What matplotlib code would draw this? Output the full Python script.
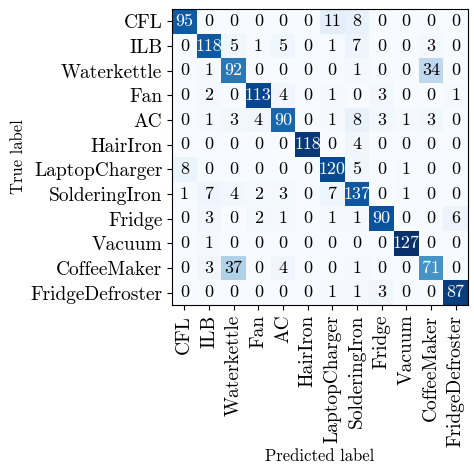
import numpy as np
import matplotlib
matplotlib.use("Agg")
import matplotlib.pyplot as plt

plt.rcParams["font.family"] = "serif"
plt.rcParams["font.serif"] = ["cmr10", "DejaVu Serif"]
plt.rcParams["mathtext.fontset"] = "cm"
plt.rcParams["axes.formatter.use_mathtext"] = True

classes = ["CFL", "ILB", "Waterkettle", "Fan", "AC", "HairIron",
           "LaptopCharger", "SolderingIron", "Fridge", "Vacuum",
           "CoffeeMaker", "FridgeDefroster"]

cm = np.array([
    [95, 0, 0, 0, 0, 0, 11, 8, 0, 0, 0, 0],
    [0, 118, 5, 1, 5, 0, 1, 7, 0, 0, 3, 0],
    [0, 1, 92, 0, 0, 0, 0, 1, 0, 0, 34, 0],
    [0, 2, 0, 113, 4, 0, 1, 0, 3, 0, 0, 1],
    [0, 1, 3, 4, 90, 0, 1, 8, 3, 1, 3, 0],
    [0, 0, 0, 0, 0, 118, 0, 4, 0, 0, 0, 0],
    [8, 0, 0, 0, 0, 0, 120, 5, 0, 1, 0, 0],
    [1, 7, 4, 2, 3, 0, 7, 137, 0, 1, 0, 0],
    [0, 3, 0, 2, 1, 0, 1, 1, 90, 0, 0, 6],
    [0, 1, 0, 0, 0, 0, 0, 0, 0, 127, 0, 0],
    [0, 3, 37, 0, 4, 0, 0, 1, 0, 0, 71, 0],
    [0, 0, 0, 0, 0, 0, 1, 1, 3, 0, 0, 87],
])

# colour by row-normalised rate, annotate with raw counts
norm = cm / cm.sum(axis=1, keepdims=True)

fig = plt.figure(figsize=(4.74, 4.72), dpi=100)
ax = fig.add_axes([0.363, 0.354, 0.624, 0.627])
ax.imshow(norm, interpolation="nearest", cmap=plt.cm.Blues, vmin=0, vmax=1, aspect="auto")

ticks = np.arange(len(classes))
ax.set_xticks(ticks)
ax.set_xticklabels(classes, rotation=90, fontsize=14)
ax.set_yticks(ticks)
ax.set_yticklabels(classes, fontsize=14)

for i in range(cm.shape[0]):
    for j in range(cm.shape[1]):
        ax.text(j, i, str(cm[i, j]), ha="center", va="center", fontsize=13,
                color="white" if norm[i, j] > 0.5 else "black")

ax.set_ylabel("True label", fontsize=12)
ax.set_xlabel("Predicted label", fontsize=12)
ax.yaxis.set_label_coords(-0.493, 0.5)
ax.xaxis.set_label_coords(0.5, -0.486)

fig.savefig("out.png", dpi=100)
